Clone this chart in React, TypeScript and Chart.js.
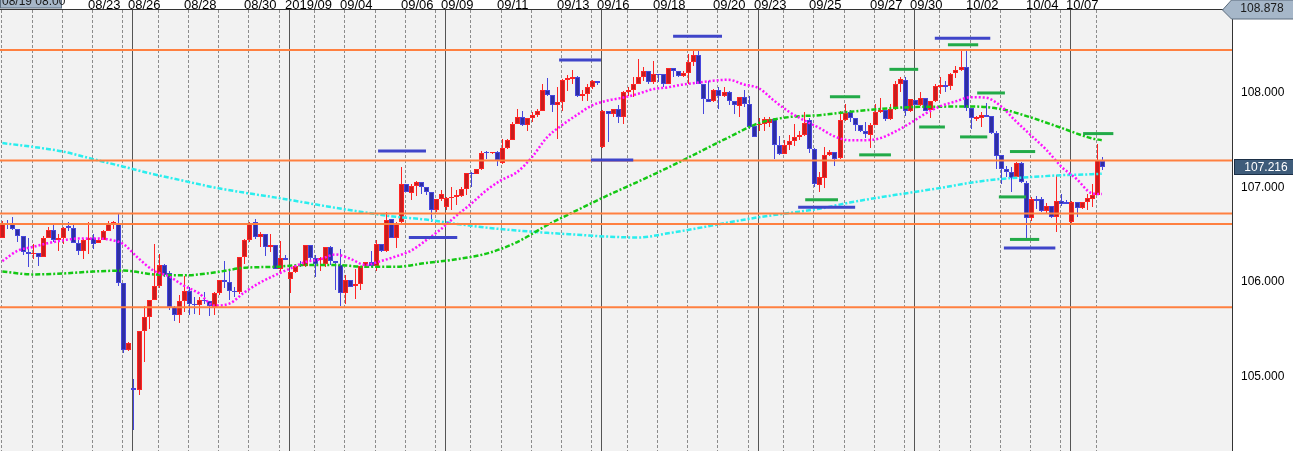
import React, { useEffect, useRef } from "react";
import { Chart, registerables } from "chart.js";

Chart.register(...registerables);

// USD/JPY 4-hour candles, oldest first (candle index 0 = Tue 08/20 first bar)
const OPEN = [
  106.47, 106.61, 106.61, 106.56, 106.49, 106.32, 106.30, 106.31, 106.26, 106.47,
  106.55, 106.44, 106.46, 106.59, 106.57, 106.41, 106.33, 106.44, 106.47, 106.41,
  106.44, 106.54, 106.61, 106.62, 105.99, 105.28, 104.88, 104.86, 105.48, 105.63,
  105.81, 105.96, 106.18, 106.09, 105.74, 105.65, 105.80, 105.90, 105.77, 105.76,
  105.81, 105.80, 105.74, 105.88, 106.02, 106.00, 105.90, 105.89, 106.26, 106.44,
  106.63, 106.48, 106.51, 106.37, 106.39, 106.14, 106.25, 106.03, 106.11, 106.18,
  106.17, 106.39, 106.25, 106.23, 106.19, 106.37, 106.22, 106.18, 105.88, 106.02,
  105.96, 105.98, 106.17, 106.21, 106.17, 106.40, 106.33, 106.67, 106.47, 106.63,
  107.04, 106.94, 107.02, 107.06, 107.00, 106.95, 106.76, 106.88, 106.79, 106.89,
  106.90, 106.91, 106.98, 107.15, 107.14, 107.20, 107.37, 107.36, 107.37, 107.26,
  107.42, 107.50, 107.67, 107.75, 107.66, 107.74, 107.77, 107.81, 108.03, 107.98,
  107.87, 107.90, 108.14, 108.15, 108.17, 107.97, 107.99, 108.06, 108.13, 107.43,
  107.81, 107.78, 107.83, 107.75, 108.01, 108.03, 108.10, 108.17, 108.23, 108.12,
  108.20, 108.20, 108.10, 108.26, 108.23, 108.18, 108.21, 108.33, 108.40, 108.10,
  107.94, 107.91, 108.03, 107.97, 108.01, 107.92, 107.86, 107.96, 107.88, 107.65,
  107.66, 107.67, 107.68, 107.72, 107.45, 107.35, 107.45, 107.49, 107.53, 107.56,
  107.71, 107.41, 107.03, 107.10, 107.34, 107.37, 107.31, 107.71, 107.80, 107.74,
  107.66, 107.60, 107.56, 107.66, 107.80, 107.82, 107.72, 107.83, 108.10, 108.14,
  107.81, 107.93, 107.87, 107.95, 107.82, 107.92, 108.06, 108.08, 108.07, 108.21,
  108.24, 108.27, 107.84, 107.72, 107.74, 107.77, 107.76, 107.58, 107.34, 107.20,
  107.16, 107.11, 107.26, 107.05, 106.68, 106.88, 106.88, 106.75, 106.80, 106.69,
  106.86, 106.85, 106.63, 106.85, 106.78, 106.85, 106.88, 106.92, 107.28,
];
const HIGH = [
  106.64, 106.66, 106.69, 106.56, 106.49, 106.46, 106.40, 106.31, 106.49, 106.58,
  106.60, 106.51, 106.58, 106.63, 106.60, 106.44, 106.45, 106.63, 106.51, 106.47,
  106.55, 106.65, 106.65, 106.72, 105.99, 105.36, 104.97, 105.48, 105.75, 105.81,
  106.40, 106.30, 106.19, 106.12, 105.75, 105.86, 106.06, 105.95, 105.84, 105.84,
  105.89, 105.80, 105.89, 106.02, 106.22, 106.13, 105.95, 106.26, 106.45, 106.63,
  106.67, 106.53, 106.51, 106.51, 106.39, 106.43, 106.29, 106.11, 106.17, 106.22,
  106.39, 106.39, 106.28, 106.26, 106.37, 106.38, 106.22, 106.35, 106.07, 106.02,
  106.14, 106.17, 106.21, 106.33, 106.44, 106.40, 106.74, 106.67, 106.63, 107.22,
  107.04, 107.04, 107.07, 107.06, 107.00, 106.95, 106.88, 106.97, 106.90, 107.01,
  106.97, 107.01, 107.15, 107.16, 107.20, 107.39, 107.39, 107.38, 107.39, 107.51,
  107.51, 107.69, 107.83, 107.81, 107.74, 107.80, 107.83, 108.10, 108.16, 107.98,
  108.06, 108.15, 108.19, 108.24, 108.18, 108.03, 108.09, 108.14, 108.13, 107.82,
  107.81, 107.83, 107.87, 108.02, 108.06, 108.17, 108.36, 108.27, 108.23, 108.34,
  108.20, 108.20, 108.26, 108.26, 108.23, 108.23, 108.41, 108.45, 108.45, 108.10,
  108.13, 108.04, 108.06, 108.06, 108.02, 107.92, 107.96, 108.03, 107.97, 107.67,
  107.74, 107.75, 107.75, 107.74, 107.54, 107.50, 107.56, 107.67, 107.60, 107.80,
  107.74, 107.42, 107.16, 107.43, 107.40, 107.37, 107.81, 107.88, 107.82, 107.74,
  107.66, 107.69, 107.68, 107.88, 107.95, 107.82, 107.88, 108.13, 108.17, 108.17,
  107.94, 107.93, 108.01, 107.95, 107.92, 108.10, 108.17, 108.13, 108.21, 108.29,
  108.45, 108.44, 107.84, 107.76, 107.80, 107.89, 107.76, 107.60, 107.34, 107.23,
  107.22, 107.27, 107.27, 107.07, 106.90, 106.91, 106.90, 106.84, 106.80, 107.13,
  106.93, 106.87, 106.86, 106.85, 106.85, 106.93, 107.04, 107.46, 107.32,
];
const LOW = [
  106.46, 106.56, 106.55, 106.42, 106.29, 106.16, 106.24, 106.17, 106.26, 106.47,
  106.42, 106.33, 106.40, 106.54, 106.41, 106.28, 106.24, 106.30, 106.35, 106.41,
  106.44, 106.54, 106.56, 105.96, 105.25, 105.27, 104.43, 104.80, 105.15, 105.50,
  105.81, 105.94, 106.05, 105.70, 105.59, 105.57, 105.68, 105.65, 105.66, 105.65,
  105.77, 105.64, 105.65, 105.86, 105.94, 105.81, 105.84, 105.87, 106.19, 106.42,
  106.45, 106.37, 106.27, 106.32, 106.14, 106.09, 106.23, 105.88, 106.10, 106.16,
  106.16, 106.23, 106.05, 106.12, 106.16, 106.18, 105.91, 105.75, 105.77, 105.95,
  105.82, 105.91, 106.16, 106.16, 106.12, 106.32, 106.32, 106.47, 106.36, 106.61,
  106.95, 106.87, 106.91, 106.93, 106.92, 106.63, 106.74, 106.86, 106.76, 106.76,
  106.81, 106.90, 106.92, 107.00, 107.14, 107.19, 107.30, 107.35, 107.23, 107.25,
  107.41, 107.50, 107.67, 107.65, 107.60, 107.69, 107.75, 107.81, 107.97, 107.80,
  107.51, 107.81, 108.02, 108.10, 107.96, 107.92, 107.92, 108.04, 108.08, 107.42,
  107.48, 107.75, 107.68, 107.67, 107.97, 107.96, 108.10, 108.13, 108.10, 108.10,
  108.12, 108.06, 108.09, 108.17, 108.17, 108.17, 108.10, 108.29, 108.10, 107.78,
  107.90, 107.90, 107.83, 107.96, 107.87, 107.78, 107.75, 107.85, 107.62, 107.53,
  107.60, 107.60, 107.64, 107.30, 107.34, 107.35, 107.40, 107.44, 107.50, 107.54,
  107.36, 107.00, 106.95, 106.99, 107.33, 107.23, 107.30, 107.70, 107.69, 107.60,
  107.59, 107.52, 107.42, 107.66, 107.79, 107.70, 107.71, 107.82, 108.01, 107.76,
  107.80, 107.87, 107.86, 107.81, 107.74, 107.90, 107.99, 108.01, 108.03, 108.16,
  108.23, 107.81, 107.62, 107.70, 107.64, 107.75, 107.57, 107.20, 107.04, 107.11,
  106.95, 107.10, 107.05, 106.47, 106.65, 106.77, 106.74, 106.72, 106.68, 106.53,
  106.80, 106.82, 106.62, 106.69, 106.77, 106.76, 106.79, 106.92, 107.19,
];
const CLOSE = [
  106.62, 106.60, 106.56, 106.49, 106.32, 106.30, 106.31, 106.26, 106.47, 106.55,
  106.44, 106.46, 106.57, 106.57, 106.41, 106.33, 106.44, 106.47, 106.40, 106.44,
  106.54, 106.61, 106.63, 105.99, 105.28, 105.35, 104.86, 105.48, 105.63, 105.81,
  105.96, 106.18, 106.07, 105.74, 105.65, 105.80, 105.90, 105.77, 105.76, 105.81,
  105.80, 105.75, 105.88, 106.02, 106.00, 105.90, 105.89, 106.26, 106.44, 106.62,
  106.48, 106.51, 106.37, 106.39, 106.14, 106.25, 106.23, 106.11, 106.17, 106.17,
  106.39, 106.25, 106.19, 106.25, 106.37, 106.22, 106.20, 105.88, 106.02, 105.95,
  105.98, 106.17, 106.21, 106.17, 106.40, 106.33, 106.66, 106.47, 106.61, 107.04,
  106.95, 107.02, 107.06, 107.00, 106.95, 106.76, 106.88, 106.93, 106.89, 106.90,
  106.92, 106.98, 107.15, 107.14, 107.20, 107.36, 107.36, 107.37, 107.29, 107.42,
  107.50, 107.67, 107.75, 107.66, 107.74, 107.77, 107.81, 108.03, 107.98, 107.87,
  107.90, 108.14, 108.16, 108.17, 107.97, 107.99, 108.06, 108.13, 108.11, 107.81,
  107.78, 107.83, 107.75, 108.01, 108.03, 108.10, 108.17, 108.23, 108.12, 108.20,
  108.19, 108.10, 108.26, 108.23, 108.18, 108.21, 108.33, 108.40, 108.10, 107.94,
  107.90, 108.03, 107.97, 108.01, 107.91, 107.87, 107.96, 107.88, 107.64, 107.53,
  107.67, 107.72, 107.72, 107.45, 107.35, 107.45, 107.49, 107.53, 107.56, 107.68,
  107.41, 107.04, 107.11, 107.34, 107.37, 107.30, 107.71, 107.79, 107.74, 107.66,
  107.60, 107.57, 107.66, 107.80, 107.82, 107.72, 107.83, 108.10, 108.15, 107.81,
  107.94, 107.87, 107.95, 107.81, 107.92, 108.07, 108.08, 108.06, 108.20, 108.24,
  108.27, 107.84, 107.73, 107.75, 107.77, 107.75, 107.58, 107.33, 107.20, 107.16,
  107.10, 107.26, 107.06, 106.68, 106.88, 106.86, 106.75, 106.80, 106.69, 106.86,
  106.83, 106.83, 106.85, 106.78, 106.85, 106.89, 106.92, 107.29, 107.216,
];

// Short moving average (magenta), sampled at candle indices
const MA_SHORT_AT = [
  0, 3, 6, 9, 12, 15, 18, 21, 24, 27, 30, 33, 36, 39, 42, 45, 48, 51, 54, 57,
  60, 63, 66, 69, 72, 75, 78, 81, 84, 87, 90, 93, 96, 99, 102, 105, 108, 111, 114, 117,
  120, 123, 126, 129, 132, 135, 138, 141, 144, 147, 150, 153, 156, 159, 162, 165, 168, 171, 174, 177,
  180, 183, 186, 189, 192, 195, 198, 201, 204, 207, 210, 213, 216, 218,
];
const MA_SHORT = [
  106.22, 106.33, 106.37, 106.41, 106.44, 106.46, 106.46, 106.45, 106.40, 106.25,
  106.12, 106.06, 105.96, 105.88, 105.75, 105.77, 105.89, 105.99, 106.07, 106.14,
  106.21, 106.24, 106.29, 106.245, 106.18, 106.22, 106.27, 106.33, 106.44, 106.56,
  106.70, 106.83, 106.97, 107.08, 107.16, 107.32, 107.53, 107.66, 107.77, 107.87,
  107.92, 107.95, 107.99, 108.04, 108.06, 108.09, 108.11, 108.13, 108.14, 108.09,
  108.05, 107.92, 107.80, 107.71, 107.63, 107.54, 107.50, 107.50, 107.52, 107.59,
  107.68, 107.78, 107.86, 107.91, 107.955, 107.95, 107.86, 107.70, 107.55, 107.40,
  107.22, 107.09, 106.94, 106.93,
];

// Medium (green) and long (cyan) moving averages, sampled at candle indices
const MA_LONG_AT = [
  0, 6, 12, 18, 24, 30, 36, 42, 48, 54, 60, 66, 72, 78, 84, 90, 96, 102, 108, 114,
  120, 126, 132, 138, 144, 150, 156, 162, 168, 174, 180, 186, 192, 198, 204, 210, 216, 218,
];
const MA_MID = [
  106.11, 106.08, 106.09, 106.11, 106.12, 106.08, 106.07, 106.10, 106.15, 106.16,
  106.18, 106.18, 106.16, 106.16, 106.20, 106.24, 106.30, 106.42, 106.60, 106.76,
  106.915, 107.06, 107.21, 107.37, 107.53, 107.68, 107.745, 107.765, 107.80, 107.83,
  107.85, 107.855, 107.857, 107.83, 107.74, 107.63, 107.52, 107.50,
];
const MA_SLOW = [
  107.47, 107.43, 107.38, 107.30, 107.22, 107.14, 107.07, 107.00, 106.945, 106.895,
  106.84, 106.785, 106.735, 106.69, 106.66, 106.615, 106.575, 106.545, 106.52, 106.50,
  106.48, 106.47, 106.515, 106.57, 106.63, 106.685, 106.73, 106.775, 106.84, 106.895,
  106.945, 106.995, 107.05, 107.09, 107.11, 107.13, 107.14, 107.145,
];

// Horizontal price lines
const LEVELS = [108.455, 107.286, 106.725, 106.612, 105.733];

// Daily high / low markers: [from candle, to candle, price]
const BLUE_MARKS = [
  [74.5, 84.0, 107.386],
  [80.6, 90.2, 106.47],
  [110.4, 118.7, 108.35],
  [116.7, 125.1, 107.29],
  [133.0, 142.7, 108.6],
  [157.8, 169.1, 106.79],
  [184.9, 195.9, 108.58],
  [198.6, 208.8, 106.36],
];
const GREEN_MARKS = [
  [159.2, 165.7, 106.87],
  [164.1, 170.1, 107.96],
  [169.9, 176.2, 107.345],
  [175.9, 181.6, 108.25],
  [181.8, 186.9, 107.64],
  [187.5, 193.5, 108.51],
  [189.9, 195.3, 107.535],
  [193.3, 198.8, 108.0],
  [197.6, 203.0, 106.9],
  [199.8, 204.8, 107.38],
  [199.8, 205.6, 106.45],
  [214.3, 220.3, 107.57],
];

// First candle of each trading day; week openings get a solid line
const DAY_START = [
  0, 6, 12, 18, 24, 26, 31, 37, 43, 49, 55, 57, 62, 68, 74, 80, 86, 88, 93, 99,
  105, 111, 117, 119, 124, 130, 136, 142, 148, 150, 155, 161, 167, 173, 179, 181,
  186, 192, 198, 204, 210, 212, 217,
];
const WEEK_START = [26, 57, 88, 119, 150, 181, 212];

const DATE_AT = [18, 26, 37, 49, 57, 68, 80, 88, 99, 111, 119, 130, 142, 150, 161, 173, 181, 192, 204, 212];
const DATE_LABELS = [
  "08/23", "08/26", "08/28", "08/30", "2019/09", "09/04", "09/06", "09/09", "09/11", "09/13",
  "09/16", "09/18", "09/20", "09/23", "09/25", "09/27", "09/30", "10/02", "10/04", "10/07",
];
const START_STAMP = "08/19 08:00";

const Y_TICKS = [105, 106, 107, 108];
const Y_MIN = 104.211;
const Y_MAX = 108.878;
const X_MIN = -0.47;
const X_MAX = 243.83;

const NARROW = '"Liberation Sans Narrow", "Liberation Sans", Arial, sans-serif';
const SANS = '"Liberation Sans", Arial, sans-serif';

const chartBackground = {
  id: "chartBackground",
  beforeDraw(chart: any) {
    const { ctx, chartArea: a } = chart;
    ctx.save();
    ctx.fillStyle = "#ffffff";
    ctx.fillRect(0, 0, chart.width, chart.height);
    ctx.fillStyle = "#f2f2f2";
    ctx.fillRect(a.left, a.top, a.right - a.left, a.bottom - a.top);
    ctx.restore();
  },
};

const dayGrid = {
  id: "dayGrid",
  beforeDatasetsDraw(chart: any) {
    const { ctx, chartArea: a, scales } = chart;
    const xs = scales.x;
    ctx.save();
    ctx.lineWidth = 1;
    DAY_START.forEach((k) => {
      const x = Math.round(xs.getPixelForValue(k - 0.2)) + 0.5;
      const week = WEEK_START.includes(k);
      ctx.strokeStyle = week ? "#555555" : "#8c8c8c";
      ctx.setLineDash(week ? [] : [3, 2]);
      ctx.beginPath();
      ctx.moveTo(x, a.top);
      ctx.lineTo(x, a.bottom);
      ctx.stroke();
    });
    ctx.restore();
  },
};

const candles = {
  id: "candles",
  beforeDatasetsDraw(chart: any) {
    const { ctx, chartArea: a, scales } = chart;
    const xs = scales.x;
    const ys = scales.y;
    ctx.save();
    ctx.beginPath();
    ctx.rect(a.left, a.top, a.right - a.left, a.bottom - a.top);
    ctx.clip();
    for (let k = 0; k < OPEN.length; k++) {
      const o = OPEN[k];
      const c = CLOSE[k];
      const up = c >= o;
      const edge = up ? "#ff2424" : "#4646dc";
      const fill = up ? "#c81e1e" : "#2e2ea4";
      const x = Math.round(xs.getPixelForValue(k));
      const yH = Math.round(ys.getPixelForValue(HIGH[k]));
      const yL = Math.round(ys.getPixelForValue(LOW[k]));
      ctx.fillStyle = edge;
      ctx.fillRect(x, yH, 1, Math.max(1, yL - yH));
      const yT = Math.round(ys.getPixelForValue(Math.max(o, c)));
      const yB = Math.round(ys.getPixelForValue(Math.min(o, c)));
      const h = Math.max(1, yB - yT);
      ctx.fillStyle = edge;
      ctx.fillRect(x - 2, yT, 5, h);
      if (h > 2) {
        ctx.fillStyle = fill;
        ctx.fillRect(x - 1, yT + 1, 3, h - 2);
      }
    }
    ctx.restore();
  },
};

const frameAndTags = {
  id: "frameAndTags",
  afterDraw(chart: any) {
    const { ctx, chartArea: a, scales } = chart;
    const xs = scales.x;
    const ys = scales.y;
    ctx.save();

    // frame
    ctx.strokeStyle = "#333333";
    ctx.lineWidth = 1;
    ctx.setLineDash([]);
    ctx.beginPath();
    ctx.moveTo(a.left, a.top - 0.5);
    ctx.lineTo(a.right, a.top - 0.5);
    ctx.moveTo(a.right + 0.5, a.top);
    ctx.lineTo(a.right + 0.5, a.bottom);
    ctx.stroke();

    // date labels along the top
    ctx.fillStyle = "#000000";
    ctx.font = `13px ${SANS}`;
    ctx.textAlign = "left";
    ctx.textBaseline = "alphabetic";
    DATE_AT.forEach((k, j) => {
      const x = Math.round(xs.getPixelForValue(k - 0.2));
      ctx.fillText(DATE_LABELS[j], x - 4, a.top - 1);
    });

    // first-bar time stamp box
    ctx.fillStyle = "#a6b7c9";
    ctx.strokeStyle = "#5d6d7e";
    ctx.fillRect(0, -2, 62, 10);
    ctx.strokeRect(0.5, -2, 61, 10);
    ctx.fillStyle = "#1a1a1a";
    ctx.font = `12px ${NARROW}`;
    ctx.fillText(START_STAMP, 2, 5);

    // axis maximum tag
    const yMax = ys.getPixelForValue(Y_MAX);
    ctx.beginPath();
    ctx.moveTo(a.right - 9.5, yMax);
    ctx.lineTo(a.right - 0.5, 0);
    ctx.lineTo(chart.width + 1, 0);
    ctx.lineTo(chart.width + 1, yMax + 9);
    ctx.lineTo(a.right - 0.5, yMax + 9);
    ctx.closePath();
    ctx.fillStyle = "#a6b7c9";
    ctx.fill();
    ctx.strokeStyle = "#5d6d7e";
    ctx.stroke();
    ctx.fillStyle = "#1a1a1a";
    ctx.textAlign = "center";
    ctx.textBaseline = "middle";
    ctx.fillText(Y_MAX.toFixed(3), 1262, yMax - 1);

    // last price tag
    const last = CLOSE[CLOSE.length - 1];
    const yLast = Math.round(ys.getPixelForValue(last));
    ctx.fillStyle = "#3e5c7a";
    ctx.fillRect(a.right + 2, yLast - 8, chart.width - a.right, 16);
    ctx.strokeStyle = "#1c3047";
    ctx.strokeRect(a.right + 2.5, yLast - 7.5, chart.width - a.right, 15);
    ctx.fillStyle = "#ffffff";
    ctx.fillText(last.toFixed(3), 1266, yLast + 0.5);

    ctx.restore();
  },
};

function lineSet(points: { x: number; y: number }[], color: string, width: number, dash: number[], order: number) {
  return {
    data: points,
    borderColor: color,
    borderWidth: width,
    borderDash: dash,
    pointRadius: 0,
    fill: false,
    order,
  };
}

export default function App() {
  const ref = useRef<HTMLCanvasElement>(null);

  useEffect(() => {
    const canvas = ref.current;
    if (!canvas) return;

    const datasets: any[] = [];
    BLUE_MARKS.forEach(([a, b, v]) =>
      datasets.push(lineSet([{ x: a, y: v }, { x: b, y: v }], "#3f45c9", 3, [], 1))
    );
    GREEN_MARKS.forEach(([a, b, v]) =>
      datasets.push(lineSet([{ x: a, y: v }, { x: b, y: v }], "#22aa48", 3, [], 1))
    );
    LEVELS.forEach((v) =>
      datasets.push(lineSet([{ x: X_MIN - 1, y: v }, { x: X_MAX + 1, y: v }], "#ff8040", 2, [], 2))
    );
    datasets.push({
      ...lineSet(MA_SHORT_AT.map((k, j) => ({ x: k, y: MA_SHORT[j] })), "#ff10ff", 2.5, [2, 2], 3),
      cubicInterpolationMode: "monotone",
    });
    datasets.push({
      ...lineSet(MA_LONG_AT.map((k, j) => ({ x: k, y: MA_MID[j] })), "#14c814", 2.5, [5, 2, 2, 2], 4),
      cubicInterpolationMode: "monotone",
    });
    datasets.push({
      ...lineSet(MA_LONG_AT.map((k, j) => ({ x: k, y: MA_SLOW[j] })), "#2aeeee", 2.5, [5, 2, 2, 2], 5),
      cubicInterpolationMode: "monotone",
    });

    const chart = new Chart(canvas, {
      type: "line",
      data: { datasets },
      options: {
        animation: false,
        responsive: false,
        events: [],
        layout: { padding: { left: 0, right: 0, top: 10, bottom: 0 } },
        plugins: { legend: { display: false }, tooltip: { enabled: false } },
        scales: {
          x: {
            type: "linear",
            display: false,
            min: X_MIN,
            max: X_MAX,
          },
          y: {
            type: "linear",
            position: "right",
            min: Y_MIN,
            max: Y_MAX,
            afterBuildTicks: (s: any) => {
              s.ticks = Y_TICKS.map((v) => ({ value: v }));
            },
            afterFit: (s: any) => {
              s.width = 61;
              s.paddingTop = 0;
              s.paddingBottom = 0;
            },
            grid: { display: false, drawTicks: false },
            border: { display: false },
            ticks: {
              padding: 9,
              color: "#000000",
              font: { family: SANS, size: 12 },
              callback: (v: any) => Number(v).toFixed(3),
            },
          },
        },
      } as any,
      plugins: [chartBackground, dayGrid, candles, frameAndTags],
    });

    return () => chart.destroy();
  }, []);

  return (
    <div style={{ position: "absolute", left: 0, top: 0, width: 1293, height: 451, background: "#ffffff" }}>
      <canvas ref={ref} width={1293} height={451} style={{ display: "block" }} />
    </div>
  );
}
